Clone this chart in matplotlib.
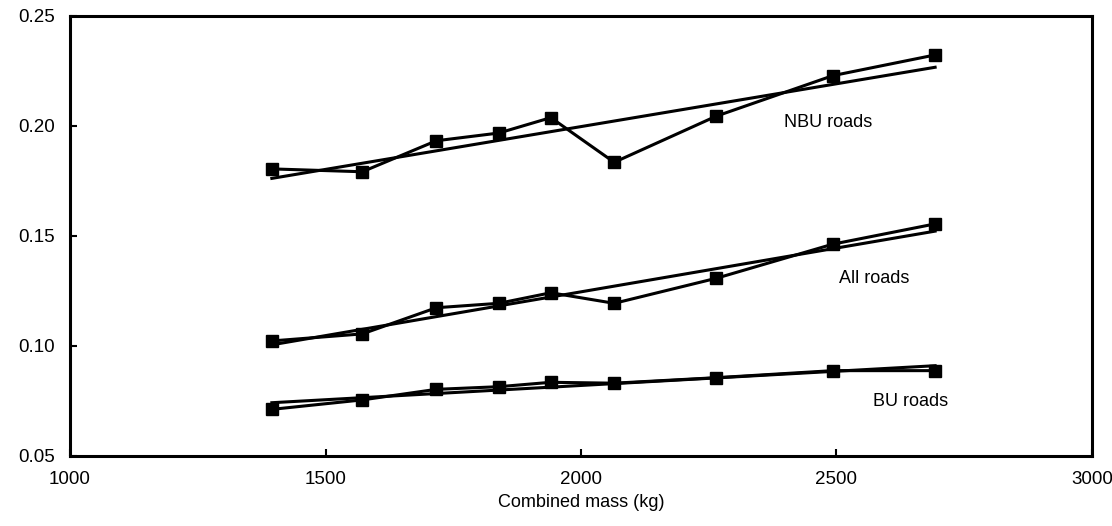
import numpy as np
import matplotlib
matplotlib.use('Agg')
import matplotlib.pyplot as plt

# Combined mass (kg) for each class
mass = [1395, 1572, 1717, 1839, 1941, 2065, 2265, 2493, 2693]

# Values per road type
nbu_roads = [0.1805, 0.1792, 0.1933, 0.1968, 0.2038, 0.1835, 0.2045, 0.2229, 0.2323]
all_roads = [0.1023, 0.1055, 0.1174, 0.1194, 0.1242, 0.1194, 0.1308, 0.1463, 0.1555]
bu_roads = [0.0712, 0.0755, 0.0803, 0.0815, 0.0835, 0.0831, 0.0856, 0.0888, 0.0888]

series = [('NBU roads', nbu_roads, (2483, 0.2014)),
          ('All roads', all_roads, (2574, 0.1308)),
          ('BU roads', bu_roads, (2645, 0.0747))]

plt.rcParams['font.family'] = ['Liberation Sans', 'DejaVu Sans']

fig = plt.figure(figsize=(11.12, 5.26), dpi=100, facecolor='white')
ax = fig.add_axes([70 / 1112, 1 - 456 / 526, 1022 / 1112, 440 / 526])

x = np.array(mass, dtype=float)
for name, vals, pos in series:
    y = np.array(vals)
    # Data with square markers
    ax.plot(x, y, color='black', lw=2.2, marker='s', ms=8.5, mec='black', mfc='black')
    # Linear trend line
    k, b = np.polyfit(x, y, 1)
    xf = np.array([x[0], x[-1]])
    ax.plot(xf, k * xf + b, color='black', lw=2.2)
    ax.text(pos[0], pos[1], name, ha='center', va='center', fontsize=13)

ax.set_xlim(1000, 3000)
ax.set_ylim(0.05, 0.25)
ax.set_xticks([1000, 1500, 2000, 2500, 3000])
ax.set_yticks([0.05, 0.10, 0.15, 0.20, 0.25])
ax.set_yticklabels(['0.05', '0.10', '0.15', '0.20', '0.25'])
ax.tick_params(direction='in', length=5, width=1.5, labelsize=13.5, pad=11)
for s in ax.spines.values():
    s.set_linewidth(2.2)
ax.set_xlabel('Combined mass (kg)', fontsize=13, labelpad=4)

fig.savefig('out.png', dpi=100)
